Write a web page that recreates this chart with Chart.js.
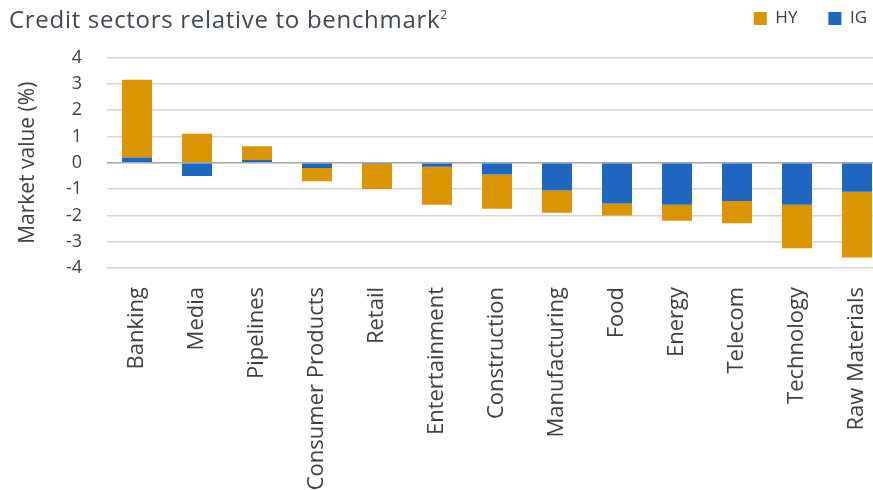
<!DOCTYPE html>
<html>
<head>
<meta charset="utf-8">
<script src="https://cdn.jsdelivr.net/npm/chart.js@4"></script>
<style>
  html, body { margin: 0; padding: 0; background: #fff; overflow: hidden; }
  #wrap { position: relative; width: 873px; height: 490px; overflow: hidden; }
  #title { position: absolute; left: 9px; top: 2px; font-family: "Open Sans", sans-serif; font-size: 24px; letter-spacing: 0.7px; color: #3f4853; white-space: nowrap; }
  #title sup { font-size: 12px; vertical-align: 9px; }
  canvas { position: absolute; left: 0; top: 0; }
</style>
</head>
<body>
<div id="wrap">
  <canvas id="c" width="898" height="490"></canvas>
  <div id="title">Credit sectors relative to benchmark<sup>2</sup></div>
</div>
<script>
const categories = ["Banking", "Media", "Pipelines", "Consumer Products", "Retail", "Entertainment", "Construction", "Manufacturing", "Food", "Energy", "Telecom", "Technology", "Raw Materials"];
const igValues = [0.2, -0.5, 0.1, -0.2, -0.05, -0.15, -0.45, -1.05, -1.55, -1.6, -1.45, -1.6, -1.1];
const hyValues = [2.95, 1.1, 0.53, -0.5, -0.95, -1.45, -1.3, -0.85, -0.45, -0.6, -0.85, -1.65, -2.5];
const yTicks = [4, 3, 2, 1, 0, -1, -2, -3, -4];

const HY_COLOR = '#DA9500';
const IG_COLOR = '#1F65C2';
const FONT = '"Open Sans", sans-serif';

const legendSpacer = {
  id: 'legendSpacer',
  beforeUpdate(chart) {
    const lg = chart.legend;
    if (lg && !lg._patched) {
      const f = lg.fit;
      lg.fit = function () { f.call(this); this.height += 20.5; };
      lg._patched = true;
    }
  }
};

new Chart(document.getElementById('c'), {
  type: 'bar',
  data: {
    labels: categories,
    datasets: [
      { label: 'IG', data: igValues, backgroundColor: IG_COLOR, borderWidth: 0 },
      { label: 'HY', data: hyValues, backgroundColor: HY_COLOR, borderWidth: 0 }
    ]
  },
  options: {
    responsive: false,
    animation: false,
    layout: { padding: { left: 0, right: 0, top: -21, bottom: 0 } },
    datasets: { bar: { barPercentage: 0.5, categoryPercentage: 1.0 } },
    plugins: {
      title: { display: false },
      tooltip: { enabled: false },
      legend: {
        position: 'top',
        align: 'end',
        reverse: true,
        labels: {
          font: { family: FONT, size: 17 },
          color: '#404040',
          boxWidth: 13,
          boxHeight: 13,
          padding: 31
        }
      }
    },
    scales: {
      x: {
        stacked: true,
        grid: { display: false, drawTicks: false },
        border: { display: false },
        ticks: {
          autoSkip: false,
          maxRotation: 90,
          minRotation: 90,
          padding: 19,
          color: '#404040',
          font: { family: FONT, size: 22 }
        },
        afterFit(s) { s.height = 222; s.paddingLeft = 0; s.paddingRight = 11; }
      },
      y: {
        stacked: true,
        min: -4,
        max: 4,
        afterBuildTicks(s) { s.ticks = yTicks.map(v => ({ value: v })); },
        grid: {
          drawTicks: false,
          lineWidth: 1.5,
          color: ctx => (ctx.tick && ctx.tick.value === 0) ? '#a6a6a6' : '#d6d6d6'
        },
        border: { display: false },
        ticks: {
          padding: 25,
          color: '#404040',
          font: { family: FONT, size: 18 }
        },
        title: {
          display: true,
          text: 'Market value (%)',
          color: '#404040',
          font: { family: FONT, size: 21 },
          padding: { top: 15, bottom: 0 }
        },
        afterFit(s) { s.width = 107; }
      }
    }
  },
  plugins: [legendSpacer]
});
</script>
</body>
</html>
